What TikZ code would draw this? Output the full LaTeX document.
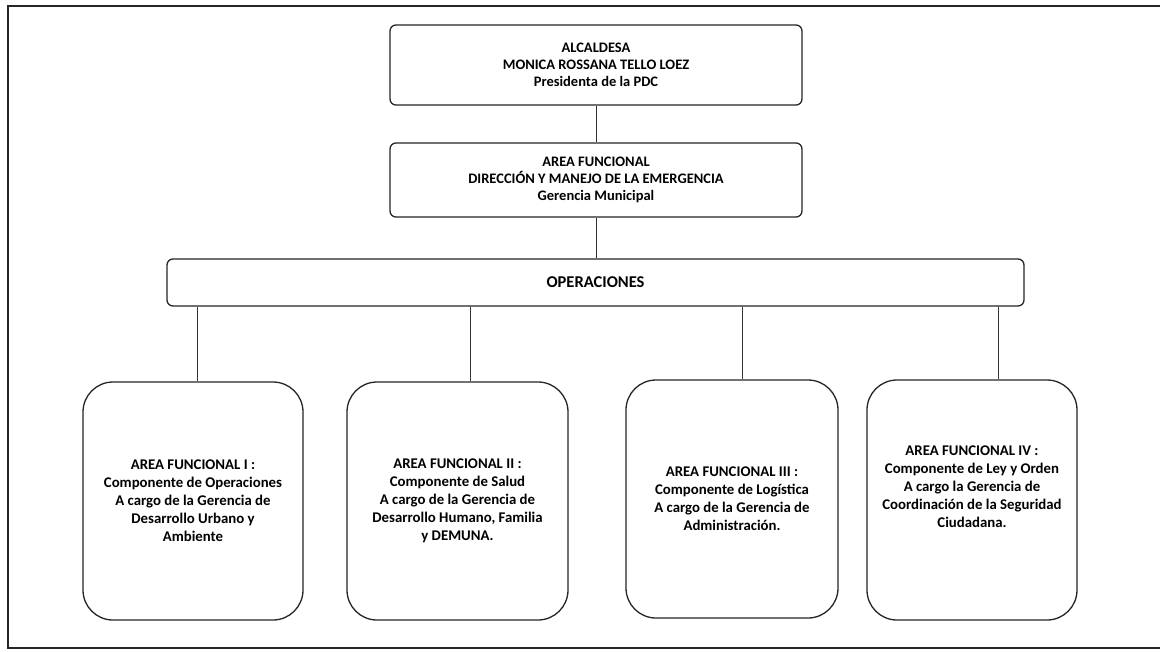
\documentclass[tikz,border=0pt]{standalone}
\usepackage{fontspec}
\setmainfont{Carlito}
\begin{document}
\begin{tikzpicture}[x=1pt,y=-1pt,
  topbox/.style={draw=black!85, line width=1.3pt, rounded corners=6pt,
    font=\bfseries\fontsize{14.5}{17}\selectfont, align=center, inner sep=0pt},
  opsbox/.style={draw=black!85, line width=1.3pt, rounded corners=6pt,
    font=\bfseries\fontsize{16.5}{18}\selectfont, align=center, inner sep=0pt},
  areabox/.style={draw=black!85, line width=1.3pt, rounded corners=30pt,
    font=\bfseries\fontsize{14.8}{18}\selectfont, align=center, inner sep=0pt},
  conn/.style={draw=black!80, line width=1pt}]
\fill[white] (0,0) rectangle (1170,651);
\useasboundingbox (0,0) rectangle (1170,651);
\draw[line width=2pt, black!85] (1160,6) -- (8,6) -- (8,648) -- (1160,648);

\node[topbox, minimum width=412, minimum height=80] (alc) at (596,65)
  {ALCALDESA\\MONICA ROSSANA TELLO LOEZ\\Presidenta de la PDC};
\node[topbox, minimum width=412, minimum height=74] (dir) at (596,180)
  {AREA FUNCIONAL\\DIRECCIÓN Y MANEJO DE LA EMERGENCIA\\Gerencia Municipal};
\node[opsbox, minimum width=857, minimum height=47] (ops) at (595.5,282.5) {OPERACIONES};

\node[areabox, minimum width=220, minimum height=238] (a) at (193,501)
  {AREA FUNCIONAL I :\\Componente de Operaciones\\A cargo de la Gerencia de\\Desarrollo Urbano y\\Ambiente};
\node[areabox, minimum width=221, minimum height=238] (b) at (457.5,501)
  {AREA FUNCIONAL II :\\Componente de Salud\\A cargo de la Gerencia de\\Desarrollo Humano, Familia\\y DEMUNA.};
\node[areabox, minimum width=212, minimum height=238] (c) at (732,499)
  {AREA FUNCIONAL III :\\Componente de Logística\\A cargo de la Gerencia de\\Administración.};
\node[areabox, minimum width=210, minimum height=240] (d) at (972,500)
  {AREA FUNCIONAL IV :\\Componente de Ley y Orden\\A cargo la Gerencia de\\Coordinación de la Seguridad\\Ciudadana.\\[8pt]};

\coordinate (xa) at (197,0);
\coordinate (xb) at (470,0);
\coordinate (xc) at (742,0);
\coordinate (xd) at (998,0);

\draw[conn] (alc.south) -- (dir.north);
\draw[conn] (dir.south) -- (ops.north -| dir.south);
\draw[conn] (ops.south -| xa) -- (a.north -| xa);
\draw[conn] (ops.south -| xb) -- (b.north -| xb);
\draw[conn] (ops.south -| xc) -- (c.north -| xc);
\draw[conn] (ops.south -| xd) -- (d.north -| xd);
\end{tikzpicture}
\end{document}
